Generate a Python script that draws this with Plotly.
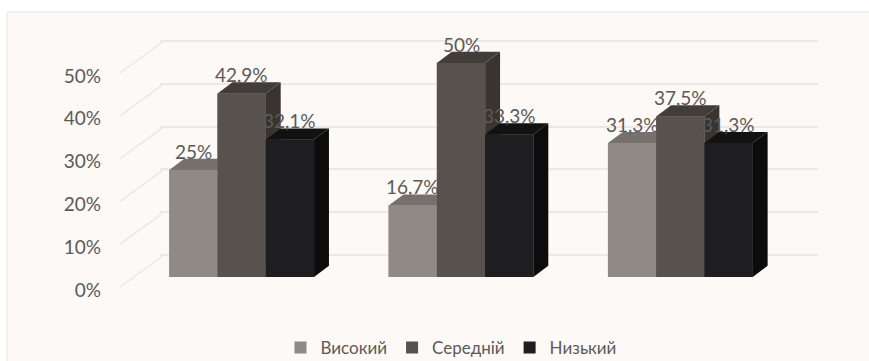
import plotly.graph_objects as go

# ---------------- data ----------------
groups = [0, 1, 2]                      # three unlabeled clusters
series_names = ["Високий", "Середній", "Низький"]
vysokyi = [25, 16.7, 31.3]
serednii = [42.9, 50, 37.5]
nyzkyi = [32.1, 33.3, 31.3]
tick_vals = [0, 10, 20, 30, 40, 50]
tick_text = ["0%", "10%", "20%", "30%", "40%", "50%"]

series_values = [vysokyi, serednii, nyzkyi]

# ---------------- style ----------------
W, H = 869, 361
FONT = "Lato"
TXT = "#5a5a5a"
front_col = ["#8f8a85", "#58524e", "#1e1e20"]
top_col = ["#76716c", "#433d3a", "#121213"]
side_col = ["#6a6560", "#3a3431", "#0c0c0d"]

bw = 0.22          # bar width (x units)
ddx = 0.068        # 3D depth offset in x units
ddy = 2.6          # 3D depth offset in value units

PX = 4.28          # px per value unit (used for axis ranges)
ybot_px, ytop_px = 294, 33
ydom = [(H - ybot_px) / H, (H - ytop_px) / H]
span = (ybot_px - ytop_px) / PX

def fmt(v):
    return f"{v:g}".replace(".", ",") + "%"

fig = go.Figure()

# invisible trace to create the back-wall gridline subplot (drawn first)
fig.add_trace(go.Scatter(x=[None], y=[None], xaxis="x", yaxis="y",
                         showlegend=False, hoverinfo="skip"))

# front faces as bars (also legend entries)
for k, (name, vals) in enumerate(zip(series_names, series_values)):
    fig.add_trace(go.Bar(
        x=groups, y=vals, name=name, width=bw, offset=(k - 1.5) * bw,
        marker=dict(color=front_col[k], line=dict(width=0)),
        xaxis="x2", yaxis="y2", hoverinfo="skip"))

# 3D faces drawn in painter's order
for i, g in enumerate(groups):
    for k, vals in enumerate(series_values):
        v = vals[i]
        x0 = g + (k - 1.5) * bw
        x1 = x0 + bw
        faces = [
            ([x1, x1 + ddx, x1 + ddx, x1, x1], [0, ddy, v + ddy, v, 0], side_col[k]),
            ([x0, x1, x1, x0, x0], [0, 0, v, v, 0], front_col[k]),
            ([x0, x1, x1 + ddx, x0 + ddx, x0], [v, v, v + ddy, v + ddy, v], top_col[k]),
        ]
        for xs, ys, col in faces:
            fig.add_trace(go.Scatter(
                x=xs, y=ys, mode="lines", fill="toself", fillcolor=col,
                line=dict(width=0, color=col), xaxis="x2", yaxis="y2",
                showlegend=False, hoverinfo="skip"))

# data labels
annotations = []
for i, g in enumerate(groups):
    for k, vals in enumerate(series_values):
        v = vals[i]
        xc = g + (k - 1.5) * bw + bw / 2
        annotations.append(dict(
            x=xc, y=v, xref="x2", yref="y2", text=fmt(v), showarrow=False,
            yshift=19, yanchor="middle", xanchor="center",
            font=dict(family=FONT, size=19, color=TXT)))

# chart area + faint diagonal side-wall lines from labels to back wall
shapes = [dict(type="rect", xref="paper", yref="paper", x0=7 / W, x1=1.01,
               y0=-0.05, y1=(H - 12) / H, fillcolor="#fcf9f6",
               line=dict(color="#e8e4e0", width=1), layer="below")]
for t in tick_vals:
    shapes.append(dict(type="line", xref="paper", yref="y3",
                       x0=120 / W, x1=163 / W, y0=t + 0.7, y1=t + 8.0,
                       line=dict(color="#ece8e4", width=1.5), layer="below"))

fig.update_layout(
    width=W, height=H,
    margin=dict(l=0, r=0, t=0, b=0, autoexpand=False),
    paper_bgcolor="white",
    plot_bgcolor="rgba(0,0,0,0)",
    barmode="overlay",
    font=dict(family=FONT, color=TXT),
    showlegend=True,
    legend=dict(orientation="h", x=451 / W, xanchor="center",
                y=-0.014, yanchor="bottom",
                font=dict(family=FONT, size=17, color=TXT),
                bgcolor="rgba(0,0,0,0)", itemwidth=30),
    # back-wall gridlines subplot
    xaxis=dict(domain=[160 / W, 818 / W], range=[0, 1], visible=False,
               anchor="y"),
    yaxis=dict(domain=ydom, range=[-(294 - 255) / PX, -(294 - 255) / PX + span],
               tickvals=tick_vals, showticklabels=False, showgrid=True,
               gridcolor="#ece8e4", gridwidth=1.5, zeroline=False,
               showline=False, ticks="", anchor="x"),
    # bars subplot
    xaxis2=dict(domain=[132 / W, 790 / W], range=[-0.5, 2.5], visible=False,
                anchor="y2"),
    yaxis2=dict(domain=ydom, range=[-(294 - 277) / PX, -(294 - 277) / PX + span],
                visible=False, anchor="x2"),
    # tick labels axis (front edge)
    yaxis3=dict(overlaying="y2", anchor="free", position=101 / W, side="left",
                range=[-(294 - 290) / PX, -(294 - 290) / PX + span],
                tickvals=tick_vals, ticktext=tick_text, showgrid=False,
                zeroline=False, showline=False, ticks="",
                tickfont=dict(family=FONT, size=19, color=TXT)),
    annotations=annotations,
    shapes=shapes,
)

fig.write_html("out.html", config={"displayModeBar": False},
               post_script="document.body.style.margin='0';document.body.style.overflow='hidden';")
